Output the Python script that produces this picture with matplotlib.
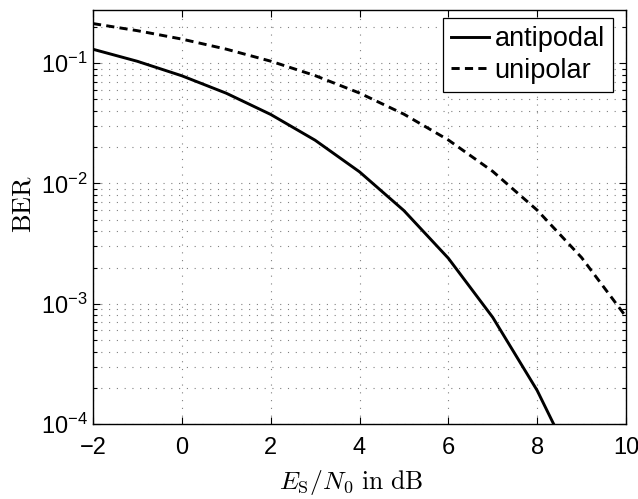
import matplotlib
matplotlib.use("Agg")
import matplotlib.pyplot as plt
from matplotlib.ticker import LogLocator, NullFormatter, FixedLocator

plt.rcParams['mathtext.fontset'] = 'cm'
plt.rcParams['font.family'] = ['Liberation Sans', 'DejaVu Sans']

# Bit error rate versus symbol SNR (dB)
snr_db = [-2, -1, 0, 1, 2, 3, 4, 5, 6, 7, 8, 9, 10]
ber_antipodal = [0.1306, 0.1037, 0.0786, 0.0563, 0.0375, 0.0229, 0.0125,
                 0.00595, 0.00239, 0.00077, 0.00019, 3.36e-5, 3.87e-6]
ber_unipolar = [0.2136, 0.1864, 0.1587, 0.1309, 0.1040, 0.0789, 0.0565,
                0.0377, 0.0230, 0.0126, 0.0060, 0.00242, 0.00078]
x_ticks = [-2, 0, 2, 4, 6, 8, 10]
x_tick_labels = ['\u22122', '0', '2', '4', '6', '8', '10']

W, H = 638, 499
fig = plt.figure(figsize=(W / 100, H / 100), dpi=100)
ax = fig.add_axes([93 / W, 1 - 424 / H, 533 / W, 414 / H])

ax.semilogy(snr_db, ber_antipodal, 'k-', lw=2.1, label='antipodal')
ax.semilogy(snr_db, ber_unipolar, 'k--', lw=2.1, dashes=(2.8, 1.8), label='unipolar')

ax.set_xlim(-2, 10)
ax.set_ylim(1e-4, 0.277)
ax.xaxis.set_major_locator(FixedLocator(x_ticks))
ax.set_xticklabels(x_tick_labels)
ax.yaxis.set_major_locator(LogLocator(base=10, numticks=10))
ax.yaxis.set_minor_locator(LogLocator(base=10, subs=range(2, 10), numticks=20))
ax.yaxis.set_minor_formatter(NullFormatter())

grid_style = dict(linestyle=(0, (1, 6)), color='#808080', lw=0.8)
ax.grid(True, which='major', axis='both', **grid_style)
ax.grid(True, which='minor', axis='y', **grid_style)

ax.tick_params(which='both', direction='in', top=True, right=True, labelsize=17, width=0.8)
ax.tick_params(which='major', length=5)
ax.tick_params(which='minor', length=3)
ax.tick_params(axis='x', pad=9)
ax.tick_params(axis='y', pad=4)
for s in ax.spines.values():
    s.set_linewidth(1.0)

ax.set_xlabel(r'$E_{\mathrm{S}}/N_0\ \mathrm{in\ dB}$', fontsize=18.5)
ax.set_ylabel(r'$\mathrm{BER}$', fontsize=19)
ax.xaxis.set_label_coords((351.5 - 93) / 533, (424 - 468) / 414)
ax.yaxis.set_label_coords((35 - 93) / 533, (424 - 204) / 414)

leg = ax.legend(loc='upper right', bbox_to_anchor=((613 - 93) / 533, (424 - 18) / 414),
                fontsize=19.5, frameon=True, fancybox=False,
                handlelength=1.4, handletextpad=0.2, borderpad=0.3,
                labelspacing=0.2, borderaxespad=0, framealpha=1)
leg.get_frame().set_edgecolor('black')
leg.get_frame().set_linewidth(0.9)

fig.savefig('out.png', dpi=100)
